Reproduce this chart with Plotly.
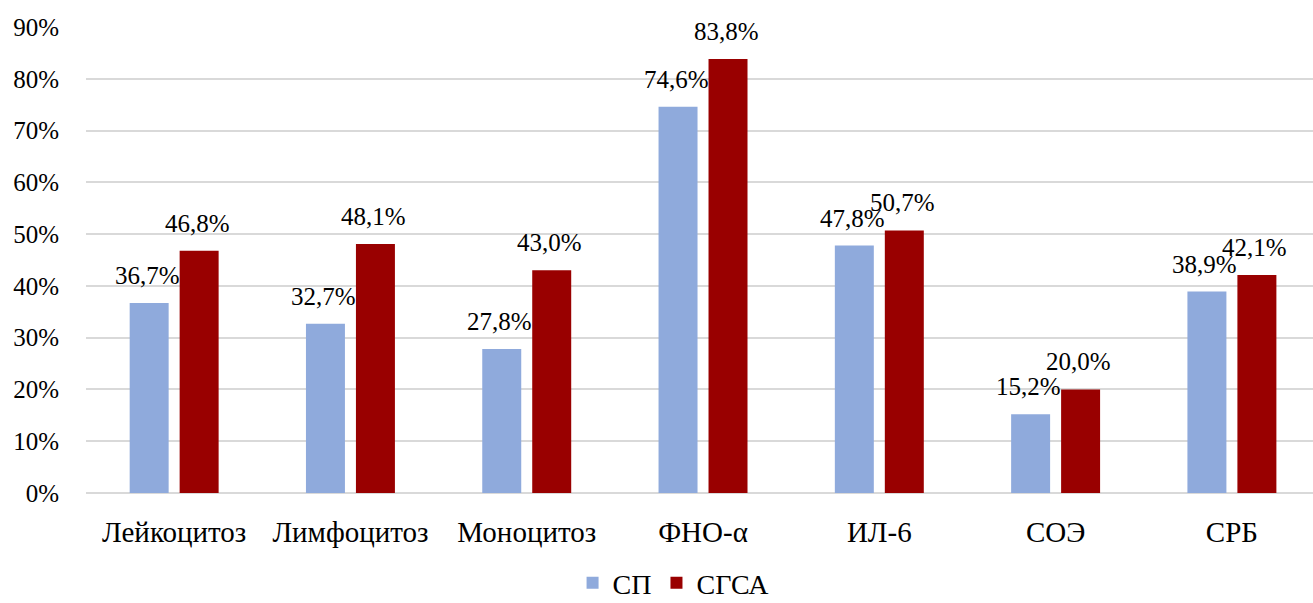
import plotly.graph_objects as go

categories = ["Лейкоцитоз", "Лимфоцитоз", "Моноцитоз", "ФНО-α", "ИЛ-6", "СОЭ", "СРБ"]
series_names = ["СП", "СГСА"]
sp_values = [36.7, 32.7, 27.8, 74.6, 47.8, 15.2, 38.9]
sgsa_values = [46.8, 48.1, 43.0, 83.8, 50.7, 20.0, 42.1]
y_ticks = [0, 10, 20, 30, 40, 50, 60, 70, 80, 90]

colors = ["#8FAADC", "#990000"]
font_family = "Liberation Serif"


def pct(v):
    return f"{v:.1f}".replace(".", ",") + "%"


fig = go.Figure()
for name, vals, col in zip(series_names, [sp_values, sgsa_values], colors):
    fig.add_trace(go.Bar(
        x=categories, y=vals, name=name,
        marker=dict(color=col, line=dict(width=0)),
        hoverinfo="skip",
    ))

# value labels above each bar
annotations = []
for shift, vals in zip([-25, 25], [sp_values, sgsa_values]):
    for c, v in zip(categories, vals):
        annotations.append(dict(
            x=c, y=v, xref="x", yref="y", text=pct(v), showarrow=False,
            xshift=shift - 2, yshift=12, yanchor="bottom",
            font=dict(family=font_family, size=25, color="#000000"),
        ))

fig.update_layout(
    width=1313, height=603,
    margin=dict(l=86, r=0, t=27, b=110, autoexpand=False),
    paper_bgcolor="white", plot_bgcolor="white",
    barmode="group", bargap=0.433, bargroupgap=0.22,
    font=dict(family=font_family, size=25, color="#000000"),
    annotations=annotations,
    showlegend=True,
    legend=dict(orientation="h", x=0.513, xanchor="center", xref="container",
                y=-0.193, yanchor="middle", yref="paper",
                font=dict(family=font_family, size=28, color="#000000"),
                itemwidth=30, traceorder="normal"),
    xaxis=dict(
        range=[-0.5, 6.46], showgrid=False, zeroline=False, showline=False,
        ticks="", ticklabelstandoff=19,
        tickfont=dict(family=font_family, size=29, color="#000000"),
    ),
    yaxis=dict(
        range=[0, 90], tickvals=y_ticks, ticktext=[f"{t}%" for t in y_ticks],
        showgrid=True, gridcolor="#D9D9D9", gridwidth=2,
        zeroline=True, zerolinecolor="#D9D9D9", zerolinewidth=2,
        showline=False, ticks="", ticklabelstandoff=26,
        tickfont=dict(family=font_family, size=25, color="#000000"),
    ),
)

fig.write_html("out.html")
